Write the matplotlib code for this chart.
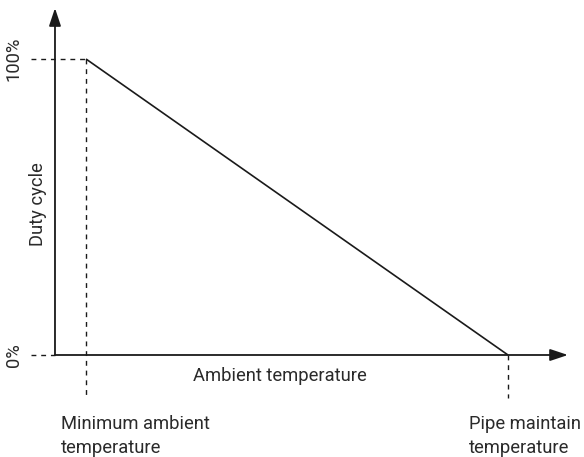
import matplotlib
matplotlib.use("Agg")
import matplotlib.pyplot as plt

plt.rcParams['font.family'] = ['Roboto', 'DejaVu Sans']

# Normalised ambient temperature: 0 = minimum ambient, 1 = pipe maintain
temps = [0.0, 1.0]
duty = [100, 0]
y_tick_labels = ["0%", "100%"]
x_point_labels = ["Minimum ambient\ntemperature", "Pipe maintain\ntemperature"]

ink = "#1a1a1a"
text_col = "#2a2a2a"

fig = plt.figure(figsize=(5.84, 4.57), dpi=100)
ax = fig.add_axes([0, 0, 1, 1])
ax.set_xlim(-0.2038, 1.1801)
ax.set_ylim(-34.46, 119.93)
ax.axis("off")

x_origin = -0.0735
x_tip = 1.142
y_tip = 117.2

# Axes with arrow heads
arrow = dict(arrowstyle="-|>,head_length=0.9,head_width=0.3", color=ink, lw=1.3,
             shrinkA=0, shrinkB=0, mutation_scale=12)
ax.annotate("", xy=(x_tip, 0), xytext=(x_origin, 0), arrowprops=arrow)
ax.annotate("", xy=(x_origin, y_tip), xytext=(x_origin, 0), arrowprops=arrow)

# Duty cycle line
ax.plot(temps, duty, color=ink, lw=1.2, solid_capstyle="butt")

# Dashed guides
dash = dict(color=ink, lw=1.0, linestyle=(0, (3.5, 3.5)))
x_left = -0.1303
ax.plot([x_left, temps[0]], [duty[0], duty[0]], **dash)
ax.plot([x_left, x_origin], [0, 0], **dash)
y_low = -14.5
ax.plot([temps[0], temps[0]], [duty[0], y_low], **dash)
ax.plot([temps[1], temps[1]], [0, y_low], **dash)

# Y tick labels
fs = 13.2
x_lab = -0.171
for val, lab in zip([0, 100], y_tick_labels):
    ax.text(x_lab, val, lab, rotation=90, ha="center", va="center",
            fontsize=fs, color=text_col)

ax.text(-0.114, 51, "Duty cycle", rotation=90, ha="center", va="center",
        fontsize=fs, color=text_col)
ax.text(0.459, -7.1, "Ambient temperature", ha="center", va="center",
        fontsize=fs, color=text_col)

label_x = [-0.059, 0.9076]
for xv, lab in zip(label_x, x_point_labels):
    ax.text(xv, -20.4, lab, ha="left", va="top", fontsize=fs,
            color=text_col, linespacing=1.4)

fig.savefig("out.png", dpi=100)
